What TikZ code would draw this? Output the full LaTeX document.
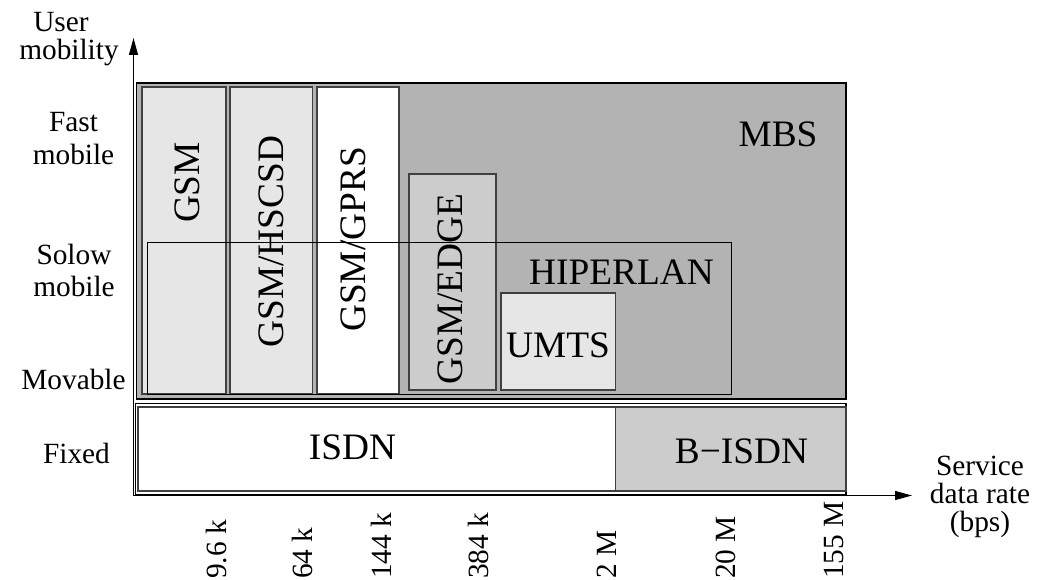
\documentclass[tikz,border=0pt]{standalone}
\usepackage{fontspec}
\setmainfont{Liberation Serif}
\usetikzlibrary{arrows.meta}
\definecolor{mbsgray}{HTML}{B3B3B3}
\definecolor{lightfill}{HTML}{E6E6E6}
\definecolor{midfill}{HTML}{CCCCCC}
\definecolor{bandline}{HTML}{404040}

\begin{document}
\begin{tikzpicture}[x=0.75pt,y=-0.75pt,
  panel/.style={draw=black,line width=1.1pt},
  band/.style={draw=bandline,line width=0.8pt},
  zone/.style={draw=black,line width=0.75pt},
  axis/.style={line width=0.9pt,-{Triangle[length=12.75pt,width=6.75pt]}},
  big/.style={inner sep=0pt,font=\fontsize{28}{33}\selectfont},
  small/.style={inner sep=0pt,font=\fontsize{22}{26}\selectfont},
  vlabel/.style={big,rotate=90,anchor=base},
  tick/.style={small,rotate=90,anchor=base west}]
\useasboundingbox (0,0) rectangle (1055,580);

% mobile networks panel
\draw[panel,fill=mbsgray] (136.5,83) rectangle (846,399);
\draw[band,fill=lightfill] (142,87) rectangle (226,394);
\draw[band,fill=lightfill] (230,87) rectangle (312.5,394);
\draw[band,fill=white] (317,87) rectangle (399,394);
\draw[band,fill=midfill] (409,174) rectangle (496,390);
\draw[band,fill=lightfill] (501,293) rectangle (615.5,390);

% fixed networks panel
\draw[panel,fill=white] (135.5,403.5) rectangle (846,495);
\draw[band,fill=white] (138,407) rectangle (615.5,491);
\draw[band,fill=midfill] (615.5,407) rectangle (846,491);

% labels inside the panels
\node[vlabel] (gsm) at (199,182.5) {GSM};
\node[vlabel] (hscsd) at (283,241.5) {GSM/HSCSD};
\node[vlabel] (gprs) at (365,239.5) {GSM/GPRS};
\node[vlabel] (edge) at (462,289) {GSM/EDGE};
\node[big,anchor=base] (umts) at (558,358) {UMTS};
\node[big,anchor=base] (hiperlan) at (621.5,285) {HIPERLAN};
\node[big,anchor=base] (mbs) at (778,146.7) {MBS};
\node[big,anchor=base] (isdn) at (352.5,459.3) {ISDN};
\node[big,anchor=base] (bisdn) at (741.5,463.3) {B−ISDN};

% wireless LAN coverage outline
\draw[zone] (147,243) rectangle (731,394);

% axes
\coordinate (origin) at (133.5,495.5);
\coordinate (ytip) at (133.5,38);
\coordinate (xtip) at (912,495.5);
\draw[axis] (origin) -- (ytip);
\draw[axis] (origin) -- (xtip);

% axis captions (multi-line nodes sit on the baseline of their last line)
\node[small,anchor=base west,align=left,font=\fontsize{22}{21}\selectfont] (ycap) at (19,60) {\hspace*{10.5pt}User\\mobility};
\node[small,anchor=base,align=center,font=\fontsize{22}{24.75}\selectfont] (fast) at (73.5,165) {Fast\\mobile};
\node[small,anchor=base,align=center,font=\fontsize{22}{24}\selectfont] (slow) at (74,297) {Solow\\mobile};
\node[small,anchor=base] (movable) at (73.5,389.3) {Movable};
\node[small,anchor=base] (fixed) at (76.5,463.3) {Fixed};
\node[small,anchor=base,align=center,font=\fontsize{22}{21}\selectfont] (xcap) at (980,531.7) {Service\\data rate\\(bps)};

% data rate ticks
\node[tick] (t1) at (226.5,579) {9.6 k};
\node[tick] (t2) at (312.5,579) {64 k};
\node[tick] (t3) at (391.5,579) {144 k};
\node[tick] (t4) at (488,579) {384 k};
\node[tick] (t5) at (616,579) {2 M};
\node[tick] (t6) at (735,579) {20 M};
\node[tick] (t7) at (843,579) {155 M};
\end{tikzpicture}
\end{document}
